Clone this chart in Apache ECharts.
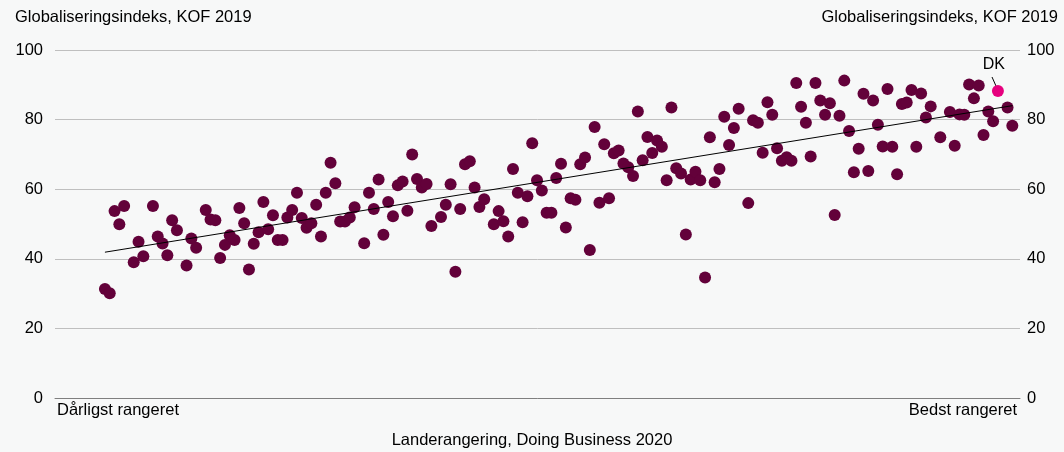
<!DOCTYPE html>
<html>
<head>
<meta charset="utf-8">
<script src="https://cdn.jsdelivr.net/npm/echarts@6/dist/echarts.min.js"></script>
<style>
    html, body {
        margin: 0;
        padding: 0;
        background: #f7f8f8;
    }

    #chart {
        width: 1064px;
        height: 452px;
    }
</style>
</head>
<body>
<div id="chart"></div>
<script>
// landerangering (1 = dårligst) og globaliseringsindeks
var rank = [1, 2, 3, 4, 5, 7, 8, 9, 11, 12, 13, 14, 15, 16, 18, 19, 20, 22, 23, 24,
    25, 26, 27, 28, 29, 30, 31, 32, 33, 34, 35, 36, 37, 38, 39, 40, 41, 42, 43, 44,
    45, 46, 47, 48, 49, 50, 51, 52, 53, 55, 56, 57, 58, 59, 60, 61, 62, 63, 64, 65,
    66, 67, 68, 69, 71, 72, 73, 74, 75, 76, 77, 78, 79, 80, 82, 83, 84, 85, 86, 87,
    88, 89, 90, 91, 92, 93, 94, 95, 96, 97, 98, 99, 100, 101, 102, 103, 104, 105, 106, 107,
    108, 109, 110, 111, 112, 113, 114, 115, 116, 117, 118, 119, 120, 121, 122, 123, 124, 125, 126, 127,
    128, 129, 130, 131, 132, 133, 135, 136, 137, 138, 139, 140, 141, 142, 143, 144, 145, 146, 147, 148,
    149, 150, 151, 152, 153, 154, 155, 156, 157, 158, 159, 160, 161, 162, 163, 164, 165, 166, 167, 168,
    169, 170, 171, 172, 173, 175, 177, 178, 179, 180, 181, 182, 183, 184, 185, 186, 189, 190];
var kof = [31.3, 30.1, 53.7, 49.9, 55.2, 39.0, 44.9, 40.7, 55.2, 46.4, 44.4, 41.0, 51.1, 48.2, 38.1, 45.8, 43.2, 54.0, 51.3, 51.1,
    40.2, 44.0, 46.8, 45.4, 54.6, 50.2, 36.9, 44.3, 47.6, 56.3, 48.5, 52.5, 45.4, 45.4, 51.9, 54.0, 59.0, 51.7, 48.9, 50.2,
    55.5, 46.4, 59.0, 67.6, 61.7, 50.7, 50.7, 51.9, 54.8, 44.5, 59.0, 54.3, 62.8, 46.9, 56.3, 52.2, 61.1, 62.2, 53.8, 70.0,
    62.9, 60.5, 61.5, 49.4, 52.0, 55.5, 61.4, 36.3, 54.3, 67.2, 68.0, 60.5, 54.9, 57.1, 49.9, 53.7, 50.8, 46.4, 65.8, 59.0,
    50.5, 58.0, 73.2, 62.6, 59.6, 53.2, 53.2, 63.2, 67.3, 49.0, 57.4, 57.0, 67.2, 69.1, 42.5, 77.9, 56.1, 72.9, 57.4, 70.3,
    71.1, 67.4, 66.3, 63.8, 82.3, 68.3, 75.0, 70.4, 74.0, 72.2, 62.6, 83.5, 66.0, 64.5, 47.0, 62.8, 65.0, 62.6, 34.6, 74.9,
    62.0, 65.8, 80.8, 72.7, 77.6, 83.1, 56.0, 79.8, 79.1, 70.5, 85.0, 81.4, 71.8, 68.2, 69.2, 68.2, 90.5, 83.7, 79.1, 69.4,
    90.5, 85.5, 81.4, 84.7, 52.6, 81.1, 91.2, 76.7, 64.9, 71.6, 87.4, 65.2, 85.5, 78.5, 72.3, 88.8, 72.2, 64.3, 84.5, 84.9,
    88.5, 72.2, 87.5, 80.6, 83.8, 74.9, 82.2, 72.5, 81.5, 81.4, 90.1, 86.1, 89.8, 75.6, 82.3, 79.5, 83.5, 78.2];

var dkRank = [187];
var dkKof = [88.2];

// tendenslinje
var trendX = [1, 190];
var trendY = [41.9, 84.0];

var yTicks = [0, 20, 40, 60, 80, 100];

var pts = [];
for (var i = 0; i < rank.length; i++) {
    pts.push([rank[i], kof[i]]);
}

var chart = echarts.init(document.getElementById('chart'));

var FONT = 'Liberation Sans, Arial, sans-serif';
var txt = {
    fontFamily: FONT,
    fontSize: 16.5,
    fill: '#000'
};

var option = {
    backgroundColor: '#f7f8f8',
    animation: false,
    grid: {
        left: 55,
        right: 44,
        top: 50,
        bottom: 54
    },
    xAxis: {
        type: 'value',
        min: -9.4,
        max: 191.6,
        axisLine: {
            show: true,
            lineStyle: { color: '#7f7f7f', width: 1 }
        },
        axisTick: { show: false },
        axisLabel: { show: false },
        splitLine: { show: false }
    },
    yAxis: [
        {
            type: 'value',
            min: yTicks[0],
            max: yTicks[yTicks.length - 1],
            interval: 20,
            axisLine: { show: false },
            axisTick: { show: false },
            axisLabel: {
                margin: 12,
                fontFamily: FONT,
                fontSize: 16.5,
                color: '#000'
            },
            splitLine: {
                lineStyle: { color: '#bfbfbf', width: 1 }
            }
        },
        {
            type: 'value',
            position: 'right',
            min: yTicks[0],
            max: yTicks[yTicks.length - 1],
            interval: 20,
            axisLine: { show: false },
            axisTick: { show: false },
            axisLabel: {
                margin: 7,
                fontFamily: FONT,
                fontSize: 16.5,
                color: '#000'
            },
            splitLine: { show: false }
        }
    ],
    series: [
        {
            type: 'scatter',
            data: pts,
            symbol: 'circle',
            symbolSize: 12,
            itemStyle: { color: '#63013a', opacity: 1 },
            z: 2
        },
        {
            type: 'scatter',
            data: dkRank.map(function (r, i) { return [r, dkKof[i]]; }),
            symbol: 'circle',
            symbolSize: 12,
            itemStyle: { color: '#e6007e', opacity: 1 },
            label: {
                show: true,
                formatter: 'DK',
                position: 'top',
                distance: 12,
                offset: [-4, 0],
                fontFamily: FONT,
                fontSize: 16,
                color: '#000'
            },
            z: 3
        },
        {
            type: 'line',
            data: [[trendX[0], trendY[0]], [trendX[1], trendY[1]]],
            symbol: 'none',
            lineStyle: { color: '#000', width: 1 },
            z: 4
        }
    ],
    graphic: [
        {
            type: 'text',
            left: 15,
            top: 9,
            style: Object.assign({ text: 'Globaliseringsindeks, KOF 2019' }, txt)
        },
        {
            type: 'text',
            right: 6,
            top: 9,
            style: Object.assign({ text: 'Globaliseringsindeks, KOF 2019' }, txt)
        },
        {
            type: 'text',
            left: 57,
            top: 402,
            style: Object.assign({ text: 'Dårligst rangeret' }, txt)
        },
        {
            type: 'text',
            right: 47,
            top: 402,
            style: Object.assign({ text: 'Bedst rangeret' }, txt)
        },
        {
            type: 'text',
            left: 'center',
            top: 432,
            style: Object.assign({ text: 'Landerangering, Doing Business 2020' }, txt)
        },
        {
            // streg fra DK-etiket til punktet
            type: 'line',
            shape: { x1: 992, y1: 77, x2: 996, y2: 86 },
            style: { stroke: '#000', lineWidth: 1 }
        }
    ]
};

chart.setOption(option);
</script>
</body>
</html>
